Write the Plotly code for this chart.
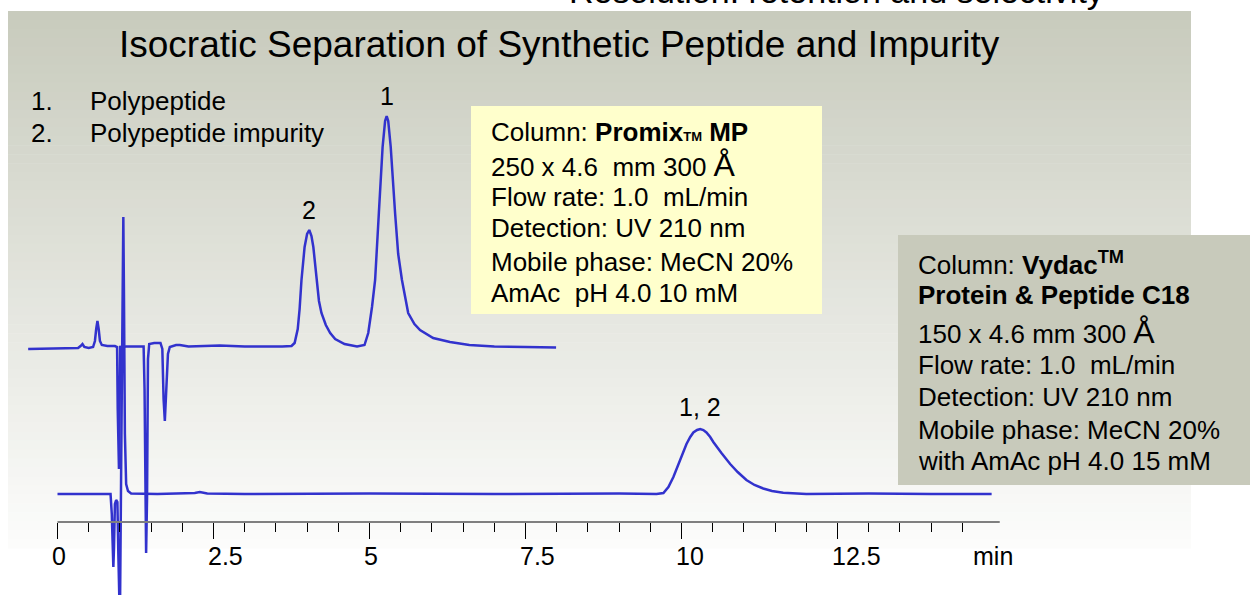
import plotly.graph_objects as go

W, H = 1253, 595

# ---------------- data ----------------
# Top chromatogram: Promix MP column (time in min, signal in arbitrary units)
promix_time = [-0.47, 0.0, 0.33, 0.37, 0.40, 0.43, 0.50, 0.57, 0.60, 0.62, 0.64, 0.66, 0.68, 0.71,
               0.80, 0.92, 0.955, 0.965, 0.975, 0.985, 0.995, 1.005, 1.10, 1.38, 1.395, 1.41, 1.42,
               1.435, 1.45, 1.47, 1.55, 1.65, 1.68, 1.70, 1.72, 1.74, 1.77, 1.80, 1.90, 1.96, 2.1,
               2.6, 3.0, 3.6, 3.75, 3.80, 3.85, 3.88, 3.91, 3.96, 4.00, 4.035, 4.07, 4.10, 4.15,
               4.19, 4.23, 4.30, 4.37, 4.45, 4.6, 4.8, 4.92, 4.98, 5.04, 5.09, 5.15, 5.21, 5.25,
               5.275, 5.30, 5.34, 5.41, 5.46, 5.52, 5.62, 5.72, 5.81, 6.02, 6.29, 6.6, 7.0, 7.5, 7.99]
promix_signal = [0, 0.5, 1, 3, 5, 2, 1, 2, 8, 20, 28, 20, 8, 4,
                 3, 3, 2, -60, -115, -120, -60, 2, 2.5, 2.5, -40, -190, -204,
                 -150, -10, 5, 6, 6, 0, -50, -72, -45, -5, 2, 4, 4, 2.5,
                 3.5, 2.5, 2.5, 3, 6, 20, 40, 69, 102, 115, 119, 113, 102, 69,
                 48, 36, 24, 16, 10, 5, 2.5, 4, 16, 42, 69, 136, 202, 228,
                 233, 228, 202, 136, 95, 69, 36, 25, 19, 11, 7, 4, 2.5, 2, 1.5]

# Bottom chromatogram: Vydac Protein & Peptide C18 column
vydac_time = [0.0, 0.85, 0.87, 0.885, 0.895, 0.905, 0.92, 0.94, 0.96, 0.975, 0.99, 1.00, 1.03,
              1.05, 1.055, 1.065, 1.08, 1.10, 1.13, 1.18, 1.6, 2.2, 2.28, 2.4, 3.0, 5.0, 7.0, 9.0,
              9.6, 9.71, 9.79, 9.87, 9.95, 10.02, 10.08, 10.14, 10.19, 10.25, 10.30, 10.35, 10.40,
              10.46, 10.51, 10.64, 10.78, 10.90, 11.04, 11.17, 11.31, 11.45, 11.63, 12.0, 13.0,
              14.0, 14.97]
vydac_signal = [0, 0, -20, -65, -73, -55, -10, -6, -8, -60, -130, -130, 100,
                270, 277, 200, 60, 10, 3, 0.5, 0, 1, 2, 0.5, 0, 0.5, 0, 0.5,
                0, 1, 7, 17, 30, 41, 50, 57, 61.5, 64, 65, 64, 61.5,
                57, 52, 41, 30, 22, 14, 9, 5.5, 3, 1.2, 0, 0.5,
                0, 0]

major_ticks = [0, 2.5, 5, 7.5, 10, 12.5]
major_labels = ["0", "2.5", "5", "7.5", "10", "12.5"]
minor_ticks = [0.5, 1, 1.5, 2, 3, 3.5, 4, 4.5, 5.5, 6, 6.5, 7, 8, 8.5, 9, 9.5,
               10.5, 11, 11.5, 12, 13, 13.5, 14, 14.5]
axis_end = 15.1
axis_unit = "min"

title_text = "Isocratic Separation of Synthetic Peptide and Impurity"
top_cut_text = "Resolution: retention and selectivity"
legend_items = [("1.", "Polypeptide"), ("2.", "Polypeptide impurity")]
peak_labels = ["1", "2", "1, 2"]
promix_lines = [
    "Column: <b>Promix</b><b><span style='font-size:13px'>TM</span> MP</b>",
    "250 x 4.6  mm 300 <span style='font-size:32px'>Å</span>",
    "Flow rate: 1.0  mL/min",
    "Detection: UV 210 nm",
    "Mobile phase: MeCN 20%",
    "AmAc  pH 4.0 10 mM",
]
vydac_lines = [
    "Column: <b>Vydac<sup>TM</sup></b>",
    "<b>Protein &amp; Peptide C18</b>",
    "150 x 4.6 mm 300 <span style='font-size:32px'>Å</span>",
    "Flow rate: 1.0  mL/min",
    "Detection: UV 210 nm",
    "Mobile phase: MeCN 20%",
    "with AmAc pH 4.0 15 mM",
]

# ---------------- layout helpers ----------------
FONT = "Liberation Sans, Arial, sans-serif"
LINE = "rgb(50,50,205)"
TXT = 26
X0_PX, PX_PER_MIN = 57.5, 62.4
x_range = [-X0_PX / PX_PER_MIN, (W - X0_PX) / PX_PER_MIN]
top_offset = 595 - 349
bottom_offset = 595 - 494


def fx(px):
    return px / W


def fy(py):
    return 1 - py / H


fig = go.Figure()
fig.add_trace(go.Scatter(x=promix_time, y=[top_offset + v for v in promix_signal], mode="lines",
                         line=dict(color=LINE, width=2.5), showlegend=False, hoverinfo="skip"))
fig.add_trace(go.Scatter(x=vydac_time, y=[bottom_offset + v for v in vydac_signal], mode="lines",
                         line=dict(color=LINE, width=2.5), showlegend=False, hoverinfo="skip"))
fig.add_trace(go.Scatter(x=[None], y=[None], xaxis="x2", yaxis="y", showlegend=False,
                         hoverinfo="skip"))

shapes = []
# background gradient panel
top_c = (200, 203, 189)
bot_c = (252, 252, 251)
y_start, y_end, n = 11, 548, 60
for i in range(n):
    t = i / (n - 1)
    c = tuple(round(top_c[k] + (bot_c[k] - top_c[k]) * t) for k in range(3))
    ya = y_start + (y_end - y_start) * i / n
    yb = y_start + (y_end - y_start) * (i + 1) / n + 0.6
    shapes.append(dict(type="rect", xref="paper", yref="paper", x0=fx(8), x1=fx(1191),
                       y0=fy(yb), y1=fy(ya), line=dict(width=0),
                       fillcolor="rgb(%d,%d,%d)" % c, layer="below"))
# info boxes
shapes.append(dict(type="rect", xref="paper", yref="paper", x0=fx(471), x1=fx(822),
                   y0=fy(314), y1=fy(106), line=dict(width=0), fillcolor="#ffffcc", layer="below"))
shapes.append(dict(type="rect", xref="paper", yref="paper", x0=fx(898), x1=fx(1250),
                   y0=fy(485), y1=fy(235), line=dict(width=0), fillcolor="#c8cabb", layer="below"))
# axis line
axis_pos = fy(522)
shapes.append(dict(type="line", xref="x", yref="paper", x0=0, x1=axis_end, y0=axis_pos, y1=axis_pos,
                   line=dict(color="#7f7f7f", width=2.2), layer="above"))

ann = []
ann.append(dict(text=title_text, x=fx(559), y=fy(45), xref="paper", yref="paper", showarrow=False,
                xanchor="center", yanchor="middle", font=dict(family=FONT, size=37, color="black")))
ann.append(dict(text=top_cut_text, x=fx(1106), y=fy(12), xref="paper", yref="paper", showarrow=False,
                xanchor="right", yanchor="bottom", font=dict(family=FONT, size=34, color="black")))
for i, (num, lab) in enumerate(legend_items):
    yy = fy(101 + 32 * i)
    ann.append(dict(text=num, x=fx(29), y=yy, xref="paper", yref="paper", showarrow=False,
                    xanchor="left", yanchor="middle", font=dict(family=FONT, size=TXT, color="black")))
    ann.append(dict(text=lab, x=fx(88), y=yy, xref="paper", yref="paper", showarrow=False,
                    xanchor="left", yanchor="middle", font=dict(family=FONT, size=TXT, color="black")))
promix_y = [132, 165, 197, 228, 262, 293]
for txt, yy in zip(promix_lines, promix_y):
    ann.append(dict(text=txt, x=fx(489), y=fy(yy), xref="paper", yref="paper", showarrow=False,
                    xanchor="left", yanchor="middle", font=dict(family=FONT, size=TXT, color="black")))
vydac_y = [263, 295, 332, 365, 397, 430, 461]
for txt, yy in zip(vydac_lines, vydac_y):
    ann.append(dict(text=txt, x=fx(916), y=fy(yy), xref="paper", yref="paper", showarrow=False,
                    xanchor="left", yanchor="middle", font=dict(family=FONT, size=TXT, color="black")))

# peak labels placed above the peak apexes taken from the data
i1 = max(range(len(promix_signal)), key=lambda k: promix_signal[k])
cand2 = [k for k in range(len(promix_time)) if 3.5 < promix_time[k] < 4.5]
i2 = max(cand2, key=lambda k: promix_signal[k])
cand3 = [k for k in range(len(vydac_time)) if vydac_time[k] > 5]
i3 = max(cand3, key=lambda k: vydac_signal[k])
for txt, xx, yy, sh in [(peak_labels[0], promix_time[i1], top_offset + promix_signal[i1], 20),
                         (peak_labels[1], promix_time[i2], top_offset + promix_signal[i2], 20),
                         (peak_labels[2], vydac_time[i3], bottom_offset + vydac_signal[i3], 22)]:
    ann.append(dict(text=txt, x=xx, y=yy, xref="x", yref="y", showarrow=False, yshift=sh,
                    xanchor="center", yanchor="middle", font=dict(family=FONT, size=25, color="black")))
# tick labels (left-aligned just before each major tick, as in the original)
for v, lab in zip(major_ticks, major_labels):
    ann.append(dict(text=lab, x=v, y=fy(556), xref="x", yref="paper", showarrow=False,
                    xanchor="left", yanchor="middle", xshift=-8,
                    font=dict(family=FONT, size=25, color="black")))
ann.append(dict(text=axis_unit, x=fx(993), y=fy(556), xref="paper", yref="paper", showarrow=False,
                xanchor="center", yanchor="middle", font=dict(family=FONT, size=25, color="black")))

fig.update_layout(
    width=W, height=H, margin=dict(l=0, r=0, t=0, b=0),
    paper_bgcolor="white", plot_bgcolor="rgba(0,0,0,0)",
    xaxis=dict(domain=[0, 1], range=x_range, visible=False, fixedrange=True),
    xaxis2=dict(overlaying="x", anchor="free", position=axis_pos, range=x_range, showline=False,
                showgrid=False, zeroline=False, tickmode="array", tickvals=major_ticks,
                showticklabels=False, ticks="outside", ticklen=16, tickwidth=1.3, tickcolor="black",
                minor=dict(tickmode="array", tickvals=minor_ticks, ticks="outside", ticklen=9,
                           tickwidth=1.3, tickcolor="black", showgrid=False)),
    yaxis=dict(domain=[0, 1], range=[0, H], visible=False, fixedrange=True),
    shapes=shapes, annotations=ann, showlegend=False,
)

fig.write_html("out.html", post_script="document.body.style.margin='0';",
               config={"displayModeBar": False})
